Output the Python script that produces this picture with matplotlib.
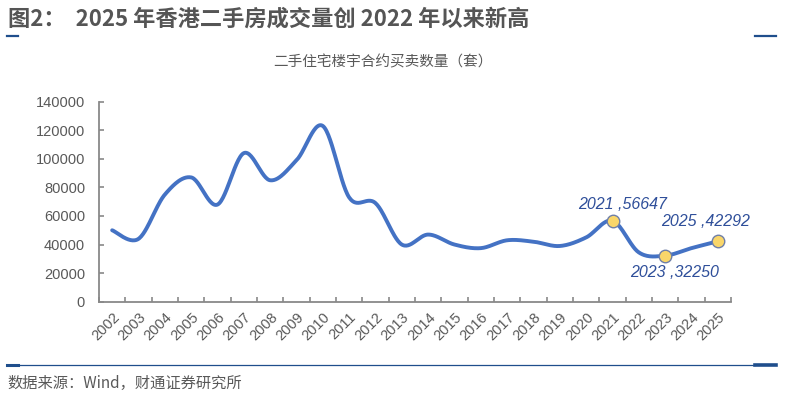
import numpy as np
import matplotlib
matplotlib.use("Agg")
import matplotlib.pyplot as plt
from matplotlib.lines import Line2D

# datos
anios = list(range(2002, 2026))
ventas = [50000, 44000, 75000, 87000, 68000, 104000, 85000, 99000, 123000, 73000,
          69000, 40000, 47000, 40000, 37500, 43000, 42000, 39000, 45000, 56647,
          34500, 32250, 37500, 42292]
destacados = [2021, 2023, 2025]
yticks = [0, 20000, 40000, 60000, 80000, 100000, 120000, 140000]

titulo = "图2：  2025 年香港二手房成交量创 2022 年以来新高"
subtitulo = "二手住宅楼宇合约买卖数量（套）"
fuente = "数据来源：Wind，财通证券研究所"

W, H = 789, 395
AZUL = "#4472C4"
OSCURO = "#1F4E8C"
GRIS = "#595959"

plt.rcParams["font.family"] = ["Liberation Sans", "Noto Sans CJK SC"]


def suavizar(x, y, n=30):
    # curva tipo excel (catmull-rom con bezier)
    x = np.asarray(x, float)
    y = np.asarray(y, float)
    px = np.concatenate([[x[0]], x, [x[-1]]])
    py = np.concatenate([[y[0]], y, [y[-1]]])
    xs, ys = [], []
    t = np.linspace(0, 1, n)
    for i in range(1, len(px) - 2):
        p0 = np.array([px[i], py[i]])
        p3 = np.array([px[i + 1], py[i + 1]])
        c1 = p0 + (np.array([px[i + 1], py[i + 1]]) - np.array([px[i - 1], py[i - 1]])) / 6
        c2 = p3 - (np.array([px[i + 2], py[i + 2]]) - np.array([px[i], py[i]])) / 6
        b = ((1 - t) ** 3)[:, None] * p0 + (3 * (1 - t) ** 2 * t)[:, None] * c1 \
            + (3 * (1 - t) * t ** 2)[:, None] * c2 + (t ** 3)[:, None] * p3
        xs.extend(b[:, 0])
        ys.extend(b[:, 1])
    return np.array(xs), np.array(ys)


fig = plt.figure(figsize=(W / 100, H / 100), dpi=100)
ax = fig.add_axes([99 / W, 1 - 301.7 / H, (731 - 99) / W, (301.7 - 101.7) / H])

pos = np.arange(len(anios))
sx, sy = suavizar(pos, ventas)
ax.plot(sx, sy, color=AZUL, lw=2.8, solid_capstyle="round", zorder=2)

# puntos destacados con su etiqueta
offsets = {2021: (7, 12), 2023: (7, -12), 2025: (-9, 14)}
for anio in destacados:
    i = anios.index(anio)
    ax.plot(pos[i], ventas[i], "o", ms=9, mfc="#F9D66A", mec="#6F7FA8", mew=1, zorder=3)
    ax.annotate(f"{anio} ,{ventas[i]}", (pos[i], ventas[i]), xytext=offsets[anio],
                textcoords="offset points", ha="center", va="center",
                fontsize=11.5, style="italic", color="#2F4F9A")

ax.set_xlim(-0.5, len(anios) - 0.5)
ax.set_ylim(0, 140000)
ax.set_yticks(yticks)
ax.set_yticklabels([str(v) for v in yticks])
ax.set_xticks(pos)
ax.set_xticklabels([str(a) for a in anios], rotation=45, ha="right", va="top",
                   rotation_mode="anchor")
ax.set_xticks(np.arange(len(anios) + 1) - 0.5, minor=True)
ax.tick_params(axis="x", which="major", length=0, pad=6, labelsize=10.5, labelcolor=GRIS)
ax.tick_params(axis="x", which="minor", direction="in", length=3.5, color="#898989", width=1.2)
ax.tick_params(axis="y", direction="in", length=3.5, color="#898989", width=1.2,
               labelsize=10.5, labelcolor=GRIS, pad=10)
for s in ["top", "right"]:
    ax.spines[s].set_visible(False)
for s in ["left", "bottom"]:
    ax.spines[s].set_color("#898989")
    ax.spines[s].set_linewidth(1.3)

# textos de la figura
fig.text(8 / W, 1 - 19 / H, titulo, fontsize=16, color="#555555", fontweight="bold",
         family=["Noto Sans CJK SC"], ha="left", va="center")
fig.text(383 / W, 1 - 62 / H, subtitulo, fontsize=10.5, color=GRIS,
         family=["Noto Sans CJK SC"], ha="center", va="center")
fig.text(7 / W, 1 - 383 / H, fuente, fontsize=11, color=GRIS,
         family=["Noto Sans CJK SC"], ha="left", va="center")


def linea(x0, x1, y, lw):
    fig.add_artist(Line2D([x0 / W, x1 / W], [1 - y / H, 1 - y / H], color=OSCURO,
                          lw=lw, transform=fig.transFigure))


linea(7, 18, 36, 1.6)
linea(755, 776, 36, 1.6)
linea(18, 755, 365, 0.9)
linea(7, 18, 365, 2.2)
linea(755, 776, 365, 2.6)

fig.savefig("out.png", dpi=100, facecolor="white")
